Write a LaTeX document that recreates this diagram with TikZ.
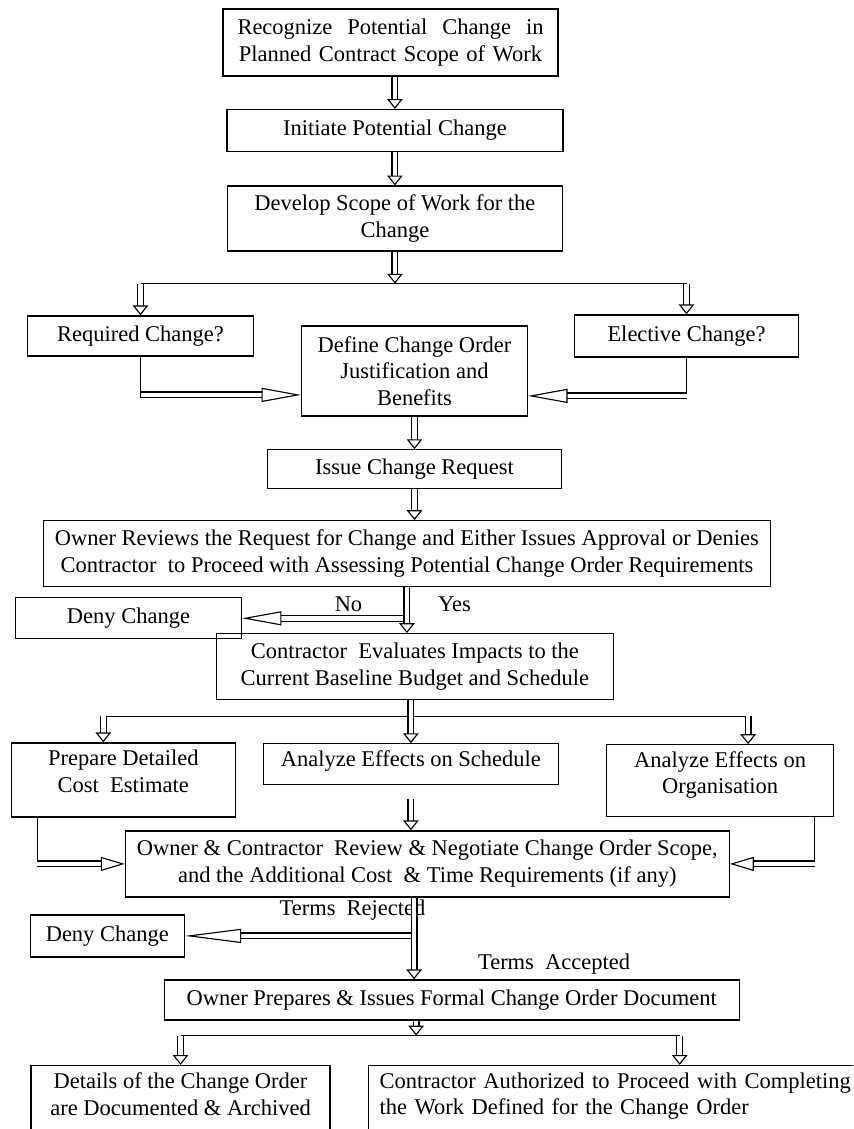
\documentclass[tikz,border=0pt]{standalone}
\usepackage{fontspec}
\setmainfont{Liberation Serif}
\usetikzlibrary{arrows.meta, positioning}
\tikzstyle{stepbox} = [rectangle,
draw=black,
line width=0.9pt,
inner sep=2pt,
align=center,
font=\fontsize{16}{19}\selectfont]
\tikzstyle{flowlabel} = [inner sep=0pt, font=\fontsize{16}{19}\selectfont]
\tikzstyle{tieline} = [line width=0.8pt]
\tikzstyle{flowarrow} = [double, line width=0.8pt, double distance=3.4pt,
-{Triangle[open, length=7pt, width=11pt, line width=0.8pt]}]
\tikzstyle{sidearrow} = [double, line width=0.8pt, double distance=3.4pt,
-{Triangle[open, length=28pt, width=10pt, line width=0.8pt]}]

\begin{document}
\begin{tikzpicture}[node distance=2.2cm]
		\useasboundingbox (0,0) rectangle (21.325,-28.225);
		\clip (0,0) rectangle (21.325,-28.225);

		\node (recog) [stepbox, minimum width=8.375cm, minimum height=1.675cm, text width=7.65cm] at (9.7625,-1.0625) {Recognize\hfill Potential\hfill Change\hfill in\\ Planned Contract Scope of Work};
		\node (init) [stepbox, below of=recog, xshift=1.1mm, minimum width=8.4cm, minimum height=1.05cm] {Initiate Potential Change};
		\node (dev) [stepbox, below of=init, minimum width=8.375cm, minimum height=1.625cm] {Develop Scope of Work for the\\ Change};
		\node (define) [stepbox, below of=dev, xshift=4.9mm, yshift=-1.61cm, minimum width=5.65cm, minimum height=2.25cm] {Define Change Order\\ Justification and\\ Benefits};
		\node (req) [stepbox, left of=define, xshift=-4.65cm, yshift=8.75mm, minimum width=5.65cm, minimum height=1cm] {Required Change?};
		\node (elect) [stepbox, right of=define, xshift=4.6cm, yshift=8.75mm, minimum width=5.6cm, minimum height=1.05cm] {Elective Change?};
		\node (issue) [stepbox, below of=define, yshift=-2.6mm, minimum width=7.35cm, minimum height=0.975cm] {Issue Change Request};
		\node (review) [stepbox, below of=issue, xshift=-1.9mm, yshift=0.9mm, minimum width=18.175cm, minimum height=1.65cm] {Owner Reviews the Request for Change and Either Issues Approval or Denies\\ Contractor\ \ to Proceed with Assessing Potential Change Order Requirements};
		\node (contr) [stepbox, below of=review, xshift=2mm, yshift=-6.25mm, minimum width=9.925cm, minimum height=1.65cm] {Contractor\ \ Evaluates Impacts to the\\ Current Baseline Budget and Schedule};
		\node (deny1) [stepbox, left of=contr, xshift=-4.96cm, yshift=1.21cm, minimum width=5.65cm, minimum height=1.025cm] {Deny Change};
		\node (sched) [stepbox, below of=contr, xshift=-1mm, yshift=-2.4mm, minimum width=7.375cm, minimum height=1.025cm, text depth=3mm] {Analyze Effects on Schedule};
		\node (prep) [stepbox, left of=sched, xshift=-4.99cm, yshift=-3.9mm, minimum width=5.6cm, minimum height=1.85cm, text depth=4.5mm] {Prepare Detailed\\ Cost\ \ Estimate};
		\node (organ) [stepbox, right of=sched, xshift=5.53cm, yshift=-4.1mm, minimum width=5.675cm, minimum height=1.8cm, text depth=4mm] {Analyze Effects on\\ Organisation};
		\node (negot) [stepbox, below of=sched, xshift=4.1mm, yshift=-2.9mm, minimum width=15.1cm, minimum height=1.65cm] {Owner \& Contractor\ \ Review \& Negotiate Change Order Scope,\\ and the Additional Cost\ \ \& Time Requirements (if any)};
		\node (deny2) [stepbox, below of=negot, xshift=-8cm, yshift=4mm, minimum width=3.85cm, minimum height=1.05cm] {Deny Change};
		\node (ownprep) [stepbox, below of=negot, xshift=6.1mm, yshift=-1.2cm, minimum width=14.375cm, minimum height=1cm] {Owner Prepares \& Issues Formal Change Order Document};
		% the last two boxes run off the bottom edge
		\node (details) [stepbox, below of=ownprep, xshift=-6.78cm, yshift=5.75mm, anchor=north, inner ysep=5pt, minimum width=7.475cm, text depth=1.2cm] {Details of the Change Order\\ are Documented \& Archived};
		\node (authz) [stepbox, below of=ownprep, xshift=4.2cm, yshift=5.75mm, anchor=north, inner ysep=5pt, minimum width=12.575cm, text width=12cm, align=left, text depth=1.2cm] {Contractor Authorized to Proceed with Completing\\ the Work Defined for the Change Order};

		% split points and turning points
		\coordinate (split1) at ([yshift=-8mm]dev.south);
		\coordinate (reqin) at ([yshift=-6mm]define.west);
		\coordinate (electin) at ([yshift=-6.25mm]define.east);
		\coordinate (nosplit) at (review.south |- deny1.east);
		\coordinate (split2) at ([yshift=-4mm]contr.south);
		\coordinate (prepleg) at ([xshift=-5mm]prep.north);
		\coordinate (organleg) at ([xshift=7mm]organ.north);
		\coordinate (prepdrop) at ([xshift=-2.15cm]prep.south);
		\coordinate (organdrop) at ([xshift=2.36cm]organ.south);
		\coordinate (accept) at ([xshift=-3.3mm]negot.south);
		\coordinate (docout) at ([xshift=-8.9mm]ownprep.south);
		\coordinate (split3) at ([yshift=-3.75mm]docout);
		\coordinate (authzleg) at ([xshift=1.5cm]authz.north);

		% branch labels
		\node (nolbl) [flowlabel] at ([xshift=-1.46cm, yshift=3.4mm]nosplit) {No};
		\node (yeslbl) [flowlabel] at ([xshift=1.19cm, yshift=3.4mm]nosplit) {Yes};
		\node (rejlbl) [flowlabel] at ([xshift=-1.54cm, yshift=6.5mm]accept |- deny2.east) {Terms\ \ Rejected};
		\node (acclbl) [flowlabel] at ([xshift=2.56cm, yshift=3.75mm]ownprep.north) {Terms\ \ Accepted};

		\draw [flowarrow](recog.south -| init.north) -- (init.north);
		\draw [flowarrow](init.south) -- (init.south |- dev.north);
		\draw [flowarrow](dev.south) -- (split1);
		\draw [tieline](req.north |- split1) -- (elect.north |- split1);
		\draw [flowarrow](req.north |- split1) -- (req.north);
		\draw [flowarrow](elect.north |- split1) -- (elect.north);
		\draw [tieline](req.south) -- (req.south |- reqin) -- ++(0,-2.5pt);
		\draw [sidearrow](req.south |- reqin) -- (reqin);
		\draw [tieline](elect.south) -- (elect.south |- electin) -- ++(0,-2.5pt);
		\draw [sidearrow](elect.south |- electin) -- (electin);
		\draw [flowarrow](define.south -| issue.north) -- (issue.north);
		\draw [flowarrow](issue.south) -- (issue.south |- review.north);
		\draw [sidearrow](nosplit) -- (deny1.east);
		\draw [flowarrow](review.south) -- (review.south |- contr.north);
		\draw [tieline](prepleg |- split2) -- (organleg |- split2);
		\draw [flowarrow](prepleg |- split2) -- (prepleg);
		\draw [flowarrow](organleg |- split2) -- (organleg);
		\draw [flowarrow](contr.south -| sched.north) -- (sched.north);
		\draw [flowarrow]([yshift=-3.5mm]sched.south) -- (sched.south |- negot.north);
		\draw [tieline](prepdrop) -- (prepdrop |- negot.west) -- ++(0,-2.5pt);
		\draw [sidearrow, -{Triangle[open, length=17pt, width=10pt, line width=0.8pt]}](prepdrop |- negot.west) -- (negot.west);
		\draw [tieline](organdrop) -- (organdrop |- negot.east) -- ++(0,-2.5pt);
		\draw [sidearrow, -{Triangle[open, length=17pt, width=10pt, line width=0.8pt]}](organdrop |- negot.east) -- (negot.east);
		\draw [sidearrow, -{Triangle[open, length=40pt, width=10pt, line width=0.8pt]}](accept |- deny2.east) -- (deny2.east);
		\draw [flowarrow](accept) -- (accept |- ownprep.north);
		\draw [flowarrow](docout) -- (split3);
		\draw [tieline](details.north |- split3) -- (authzleg |- split3);
		\draw [flowarrow](details.north |- split3) -- (details.north);
		\draw [flowarrow](authzleg |- split3) -- (authzleg);
	\end{tikzpicture}
\end{document}
